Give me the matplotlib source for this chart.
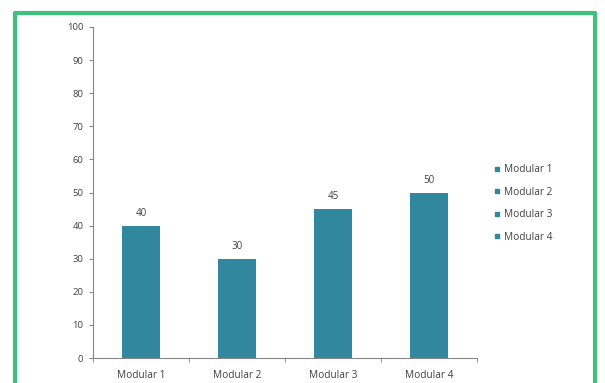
import matplotlib
matplotlib.use("Agg")
import matplotlib.pyplot as plt
from matplotlib.patches import Rectangle
from matplotlib.lines import Line2D

categories = ["Modular 1", "Modular 2", "Modular 3", "Modular 4"]
values = [40, 30, 45, 50]
yticks = [0, 10, 20, 30, 40, 50, 60, 70, 80, 90, 100]

bar_color = "#31879e"
text_color = "#404040"
axis_color = "#868686"
border_color = "#3cc27c"

plt.rcParams['font.family'] = ['Open Sans', 'DejaVu Sans']

fig = plt.figure(figsize=(6.05, 3.83), dpi=100)
fig.patch.set_facecolor("white")
ax = fig.add_axes([93/605, 1-358/383, (477-93)/605, (358-27)/383])

x = list(range(len(categories)))
bars = ax.bar(x, values, width=0.4, color=bar_color, zorder=2)
for xi, v in zip(x, values):
    ax.text(xi, v + 2, str(v), ha="center", va="bottom", fontsize=7, color=text_color)

ax.set_xlim(-0.5, len(categories) - 0.5)
ax.set_ylim(0, 100)
ax.set_yticks(yticks)
ax.set_yticklabels([str(t) for t in yticks], fontsize=6.8, color=text_color)
ax.set_xticks(x)
ax.set_xticklabels(categories, fontsize=7.3, color=text_color)
ax.tick_params(axis="x", length=0, pad=9)
ax.set_xticks([i + 0.5 for i in range(-1, len(categories))], minor=True)
ax.tick_params(axis="x", which="minor", length=3, color=axis_color, direction="out")
ax.tick_params(axis="y", length=3, color=axis_color, direction="out", pad=4)

for s in ["top", "right"]:
    ax.spines[s].set_visible(False)
ax.spines["left"].set_color(axis_color)
ax.spines["bottom"].set_color(axis_color)
ax.spines["left"].set_linewidth(0.8)
ax.spines["bottom"].set_linewidth(0.8)

handles = [Line2D([0], [0], marker="s", color="none", markerfacecolor=bar_color,
                  markeredgecolor=bar_color, markersize=3.5) for _ in categories]
fig.legend(handles, categories, loc="upper left", bbox_to_anchor=(490/605, 1-160/383),
           frameon=False, fontsize=7.3, labelcolor=text_color, handlelength=0.6,
           handletextpad=0.4, labelspacing=1.15, borderaxespad=0)

# green frame around the chart (bottom edge beyond image)
fig.patches.append(Rectangle((15/605, -0.05), (595-15)/605, (1-13/383) + 0.05,
                             transform=fig.transFigure, fill=False,
                             edgecolor=border_color, linewidth=3, zorder=10,
                             joinstyle="round"))

fig.savefig("out.png", dpi=100, facecolor="white")
